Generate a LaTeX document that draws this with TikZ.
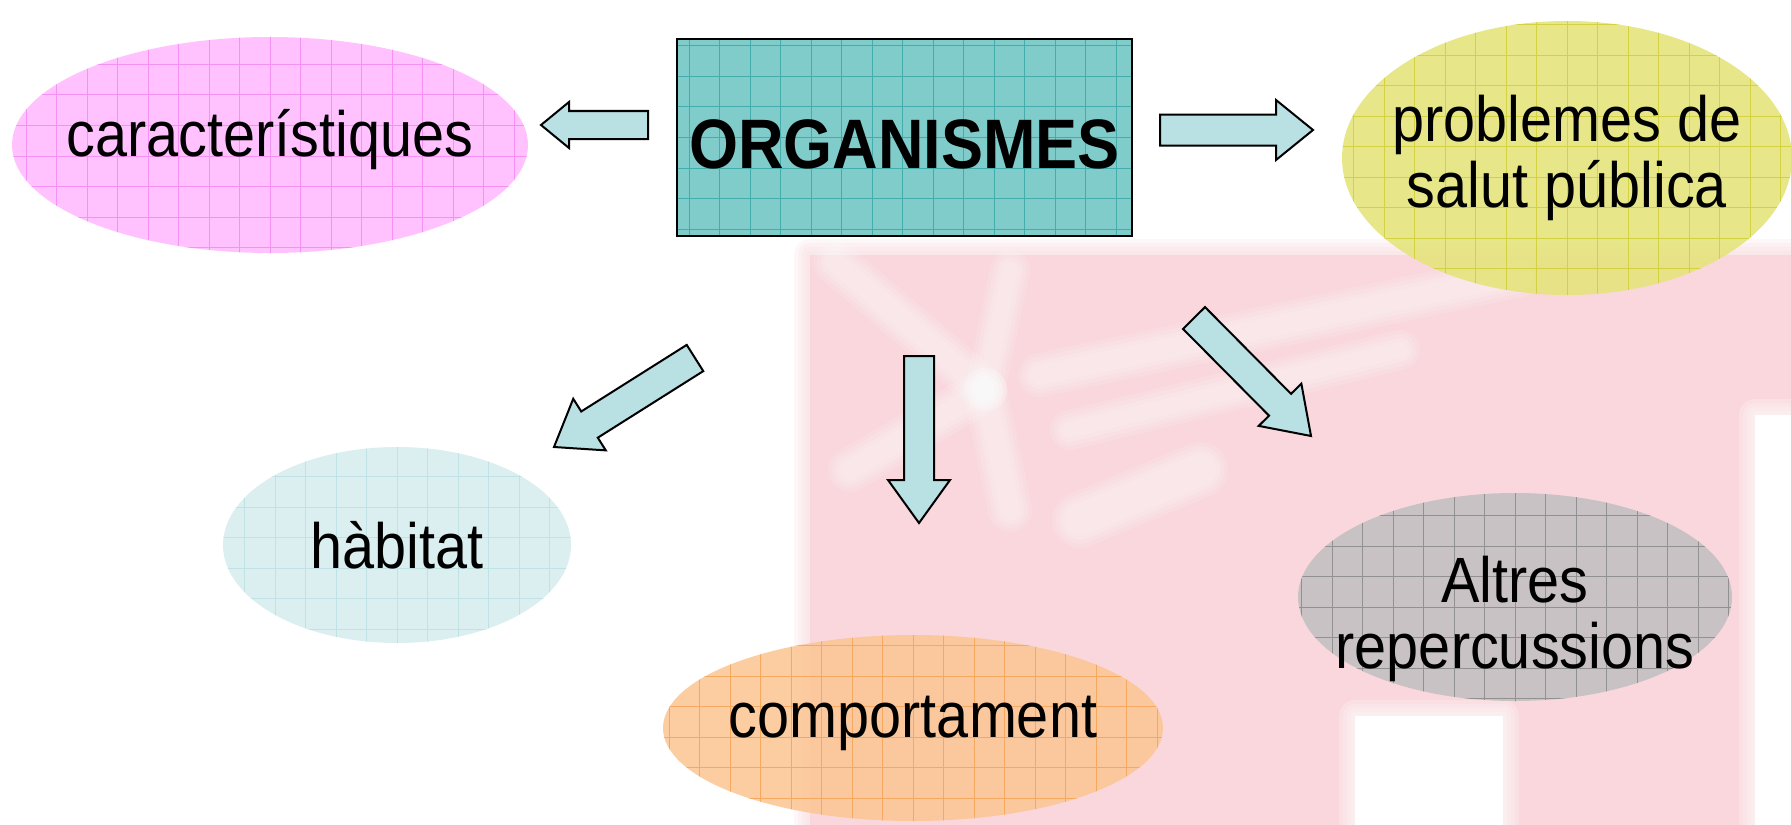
\documentclass[tikz,border=0pt]{standalone}
\usepackage{fontspec}
\setmainfont{Liberation Sans}[FakeStretch=0.9]
\usetikzlibrary{shapes.geometric,calc}

\definecolor{bgpink}{HTML}{F9D7DC}
\definecolor{carfill}{HTML}{FFBAFF}
\definecolor{cargrid}{HTML}{F58CF5}
\definecolor{boxfill}{HTML}{80CCCA}
\definecolor{boxgrid}{HTML}{3DAAAA}
\definecolor{probfill}{HTML}{E4E47A}
\definecolor{probgrid}{HTML}{D2D03C}
\definecolor{habfill}{HTML}{D8EDEF}
\definecolor{habgrid}{HTML}{BDE1E4}
\definecolor{compfill}{HTML}{FCC795}
\definecolor{compgrid}{HTML}{F5A55A}
\definecolor{altfill}{HTML}{C2C0C1}
\definecolor{altgrid}{HTML}{8C8C8C}
\definecolor{arrowfill}{HTML}{B9E0E2}

\newcommand\ctext[1]{\makebox[0pt]{#1}}
\newcommand\blkarrow[5]{%
  \coordinate (hb) at ($(#2)!#5!(#1)$);
  \draw[blockarrow] ($(#1)!#3!90:(#2)$) -- ($(hb)!#3!-90:(#1)$) -- ($(hb)!#4!-90:(#1)$) -- (#2)
    -- ($(hb)!#4!90:(#1)$) -- ($(hb)!#3!90:(#1)$) -- ($(#1)!#3!-90:(#2)$) -- cycle;}
% soft (blurred-looking) rectangle: colour, corner, corner
\newcommand\softrect[3]{%
  \foreach \w in {16,12,8,4}{%
    \draw[#1, opacity=0.2, line width=\w pt, line join=round] #2 rectangle #3;}
  \fill[#1] #2 rectangle #3;}
% soft ray: width, from, to
\newcommand\softray[3]{%
  \foreach \w in {12,8,4,0}{%
    \draw[white, opacity=0.14, line cap=round, line width=#1pt+\w pt] #2 -- #3;}}

\tikzset{
  bubble/.style={ellipse, inner sep=0pt, align=center, text opacity=1,
    font=\fontsize{32}{33}\selectfont},
  gridfill/.style 2 args={fill=#1, fill opacity=0.88, text opacity=1,
    path picture={\draw[#2, line width=0.5pt, draw opacity=0.9]
      ([xshift=-20pt,yshift=20pt]path picture bounding box.north west) grid[step=15.25pt]
      ([xshift=20pt,yshift=-20pt]path picture bounding box.south east);}},
  blockarrow/.style={fill=arrowfill, draw=black, line width=1pt, line join=miter},
}

\begin{document}
\begin{tikzpicture}[x=0.5pt, y=-0.5pt]
\useasboundingbox (0,0) rectangle (1791,824);
\fill[white] (0,0) rectangle (1791,824);

% faded watermark
\softrect{bgpink}{(810,255)}{(1810,850)}
\softrect{white}{(1355,716)}{(1503,850)}
\softrect{white}{(1755,415)}{(1810,850)}
\softray{10}{(985,390)}{(835,262)}
\softray{8}{(985,390)}{(1010,270)}
\softray{10}{(1040,375)}{(1520,275)}
\softray{8}{(1070,430)}{(1400,350)}
\softray{10}{(985,390)}{(850,470)}
\softray{10}{(985,390)}{(1010,510)}
\softray{16}{(1080,520)}{(1200,470)}

% nodes
\node[bubble, gridfill={carfill}{cargrid}, minimum width=258pt, minimum height=108pt,
      text height=20pt, text depth=9pt] (car) at (270,145) {\ctext{característiques}};
\node[draw, line width=1pt, gridfill={boxfill}{boxgrid}, fill opacity=1, inner sep=0pt,
      minimum width=227.5pt, minimum height=98.5pt,
      font=\bfseries\fontsize{35}{36}\selectfont, text height=30.5pt, text depth=0pt]
      (org) at (904.5,137.5) {ORGANISMES};
\node[bubble, gridfill={probfill}{probgrid}, minimum width=225pt, minimum height=137pt]
      (prob) at (1567,158) {\ctext{problemes de}\\\ctext{salut pública}};
\node[bubble, gridfill={habfill}{habgrid}, minimum width=174pt, minimum height=98pt,
      text height=26pt, text depth=3pt] (hab) at (397,545) {\ctext{hàbitat}};
\node[bubble, gridfill={compfill}{compgrid}, minimum width=250pt, minimum height=93pt,
      text height=20pt, text depth=11pt] (comp) at (913,728) {\ctext{comportament}};
\node[bubble, gridfill={altfill}{altgrid}, minimum width=217pt, minimum height=104pt,
      text height=71pt, text depth=0pt]
      (alt) at (1515,597) {\ctext{Altres}\\\ctext{repercussions}};

% block arrows
\coordinate (aLt) at (648,125);  \coordinate (aLh) at (541,125);
\coordinate (aRt) at (1160,130); \coordinate (aRh) at (1313,130);
\coordinate (aDt) at (919,356);  \coordinate (aDh) at (919,523);
\coordinate (aSWt) at (695,358); \coordinate (aSWh) at (554,447);
\coordinate (aSEt) at (1194,318); \coordinate (aSEh) at (1311,436);
\blkarrow{aLt}{aLh}{7pt}{11.5pt}{14pt}
\blkarrow{aRt}{aRh}{7.75pt}{15pt}{18.5pt}
\blkarrow{aDt}{aDh}{7.5pt}{15.5pt}{21.5pt}
\blkarrow{aSWt}{aSWh}{7.75pt}{15.25pt}{21pt}
\blkarrow{aSEt}{aSEh}{7.75pt}{15pt}{22pt}
\end{tikzpicture}
\end{document}
